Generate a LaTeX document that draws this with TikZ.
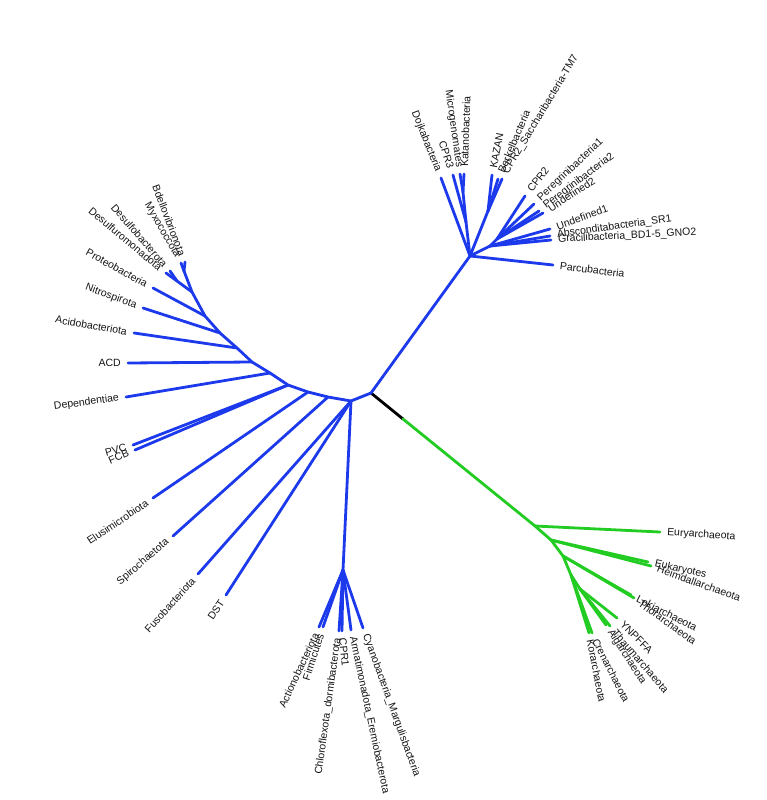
\documentclass[tikz,border=0pt]{standalone}
\usepackage{fontspec}
\setmainfont{Liberation Sans}
\definecolor{bl}{RGB}{28,58,236}
\definecolor{gr}{RGB}{34,204,34}
\definecolor{tx}{RGB}{20,20,20}
\tikzset{
  br/.style={line width=2.8pt, line cap=round, line join=round},
  blu/.style={br, draw=bl},
  grn/.style={br, draw=gr},
  blk/.style={br, draw=black},
  lab/.style={font=\fontsize{10.5}{12}\selectfont, text=tx, inner xsep=7pt, inner ysep=1pt},
  labL/.style={lab, anchor=east},
  labR/.style={lab, anchor=west}
}
\begin{document}
\begin{tikzpicture}[x=1pt,y=-1pt]
\useasboundingbox (0,0) rectangle (767,800);
% ---------- coordinates ----------
\coordinate (R) at (371,393);
\coordinate (Bk) at (403,419);
\coordinate (C) at (470,256);
\coordinate (L1) at (351,401);
% CPR clade
\coordinate (n1) at (466,222);
\coordinate (n2) at (463,192);
\coordinate (n3) at (488,211);
\coordinate (n4) at (490,246);
\coordinate (n5) at (497,239);
\coordinate (tDoj) at (441,178);
\coordinate (tCPR3) at (453,175);
\coordinate (tMic) at (460,174);
\coordinate (tKat) at (464,174);
\coordinate (tKAZ) at (492,175);
\coordinate (tBer) at (498,179);
\coordinate (tSac) at (502,179);
\coordinate (tCPR2) at (525,196);
\coordinate (tPer1) at (534,204);
\coordinate (tPer2) at (539,211);
\coordinate (tUnd2) at (543,213);
\coordinate (tUnd1) at (550,229);
\coordinate (tAbs) at (550,236);
\coordinate (tGra) at (551,240);
\coordinate (tPar) at (553,265);
% left clade backbone
\coordinate (b1) at (328,397);
\coordinate (b2) at (308,392);
\coordinate (b3) at (288,385);
\coordinate (b4) at (270,373);
\coordinate (b5) at (252,362);
\coordinate (b6) at (237,348);
\coordinate (b7) at (220,333);
\coordinate (b8) at (205,316);
\coordinate (b9) at (192,292);
\coordinate (d1) at (177,281);
\coordinate (d2) at (184,271);
\coordinate (tMyx) at (181,263);
\coordinate (tBde) at (185,262);
\coordinate (tDsb) at (170,271);
\coordinate (tDsm) at (166,273);
\coordinate (tPro) at (153,288);
\coordinate (tNit) at (143,308);
\coordinate (tAci) at (134,333);
\coordinate (tACD) at (128,363);
\coordinate (tDep) at (126,397);
\coordinate (tPVC) at (133,445);
\coordinate (tFCB) at (135,450);
\coordinate (tElu) at (153,498);
\coordinate (tSpi) at (173,536);
\coordinate (tFus) at (198,574);
\coordinate (tDST) at (226,595);
% Terrabacteria
\coordinate (T) at (343,570);
\coordinate (tAct) at (319,627);
\coordinate (tFir) at (323,627);
\coordinate (tChl) at (339,631);
\coordinate (tCPR1) at (342,631);
\coordinate (tArm) at (351,630);
\coordinate (tCya) at (363,628);
% Archaea
\coordinate (A1) at (535,526);
\coordinate (A2) at (551,540);
\coordinate (A3) at (563,556);
\coordinate (A4) at (571,575);
\coordinate (A5) at (580,589);
\coordinate (tEur) at (660,532);
\coordinate (tEuk) at (648,562);
\coordinate (tHei) at (651,566);
\coordinate (tLok) at (631,595);
\coordinate (tTho) at (634,598);
\coordinate (tYNP) at (617,618);
\coordinate (tAig) at (606,625);
\coordinate (tTha) at (610,626);
\coordinate (tCre) at (592,633);
\coordinate (tKor) at (589,633);
% ---------- branches ----------
\draw[blk] (R) -- (Bk);
\draw[grn] (Bk) -- (A1);
\draw[blu] (R) -- (C);
\draw[blu] (R) -- (L1);
% CPR
\draw[blu] (C) -- (tPar);
\draw[blu] (C) -- (tDoj);
\draw[blu] (C) -- (n1);
\draw[blu] (n1) -- (tCPR3);
\draw[blu] (n1) -- (n2);
\draw[blu] (n2) -- (tMic);
\draw[blu] (n2) -- (tKat);
\draw[blu] (C) -- (n3);
\draw[blu] (n3) -- (tKAZ);
\draw[blu] (n3) -- (tBer);
\draw[blu] (n3) -- (tSac);
\draw[blu] (C) -- (n4);
\draw[blu] (n4) -- (tUnd1);
\draw[blu] (n4) -- (tAbs);
\draw[blu] (n4) -- (tGra);
\draw[blu] (n4) -- (n5);
\draw[blu] (n5) -- (tCPR2);
\draw[blu] (n5) -- (tPer1);
\draw[blu] (n5) -- (tPer2);
\draw[blu] (n5) -- (tUnd2);
% left clade
\draw[blu] (L1) -- (b1) -- (b2) -- (b3) -- (b4) -- (b5) -- (b6) -- (b7) -- (b8) -- (b9);
\draw[blu] (b9) -- (d1);
\draw[blu] (d1) -- (tDsb);
\draw[blu] (d1) -- (tDsm);
\draw[blu] (b9) -- (d2);
\draw[blu] (d2) -- (tMyx);
\draw[blu] (d2) -- (tBde);
\draw[blu] (b8) -- (tPro);
\draw[blu] (b7) -- (tNit);
\draw[blu] (b6) -- (tAci);
\draw[blu] (b5) -- (tACD);
\draw[blu] (b4) -- (tDep);
\draw[blu] (b3) -- (tPVC);
\draw[blu] (b3) -- (tFCB);
\draw[blu] (b2) -- (tElu);
\draw[blu] (b1) -- (tSpi);
\draw[blu] (L1) -- (tFus);
\draw[blu] (L1) -- (tDST);
\draw[blu] (L1) -- (T);
\draw[blu] (T) -- (tAct);
\draw[blu] (T) -- (tFir);
\draw[blu] (T) -- (tChl);
\draw[blu] (T) -- (tCPR1);
\draw[blu] (T) -- (tArm);
\draw[blu] (T) -- (tCya);
% archaea
\draw[grn] (A1) -- (tEur);
\draw[grn] (A1) -- (A2);
\draw[grn] (A2) -- (tEuk);
\draw[grn] (A2) -- (tHei);
\draw[grn] (A2) -- (A3);
\draw[grn] (A3) -- (tLok);
\draw[grn] (A3) -- (tTho);
\draw[grn] (A3) -- (A4);
\draw[grn] (A4) -- (tCre);
\draw[grn] (A4) -- (tKor);
\draw[grn] (A4) -- (A5);
\draw[grn] (A5) -- (tYNP);
\draw[grn] (A5) -- (tAig);
\draw[grn] (A5) -- (tTha);
% ---------- labels ----------
\node[labL, rotate=-68] (lDoj) at (tDoj) {Dojkabacteria};
\node[labL, rotate=-72] (lCPR3) at (tCPR3) {CPR3};
\node[labL, rotate=-82] (lMic) at (tMic) {Microgenomates};
\node[labR, rotate=88] (lKat) at (tKat) {Katanobacteria};
\node[labR, rotate=79] (lKAZ) at (tKAZ) {KAZAN};
\node[labR, rotate=67] (lBer) at (tBer) {Berkelbacteria};
\node[labR, rotate=59] (lSac) at (tSac) {CPR2\_Saccharibacteria-TM7};
\node[labR, rotate=52] (lCPR2) at (tCPR2) {CPR2};
\node[labR, rotate=43] (lPer1) at (tPer1) {Peregrinibacteria1};
\node[labR, rotate=37] (lPer2) at (tPer2) {Peregrinibacteria2};
\node[labR, rotate=33] (lUnd2) at (tUnd2) {Undefined2};
\node[labR, rotate=20] (lUnd1) at (tUnd1) {Undefined1};
\node[labR, rotate=8] (lAbs) at (tAbs) {Absconditabacteria\_SR1};
\node[labR, rotate=3] (lGra) at (tGra) {Gracilibacteria\_BD1-5\_GNO2};
\node[labR, rotate=-7] (lPar) at (tPar) {Parcubacteria};
\node[labL, rotate=-69] (lBde) at (tBde) {Bdellovibrionota};
\node[labL, rotate=-60] (lMyx) at (tMyx) {Myxococcota};
\node[labL, rotate=-49] (lDsb) at (tDsb) {Desulfobacterota};
\node[labL, rotate=-40] (lDsm) at (tDsm) {Desulfuromonadota};
\node[labL, rotate=-29] (lPro) at (tPro) {Proteobacteria};
\node[labL, rotate=-20] (lNit) at (tNit) {Nitrospirota};
\node[labL, rotate=-10] (lAci) at (tAci) {Acidobacteriota};
\node[labL, rotate=0] (lACD) at (tACD) {ACD};
\node[labL, rotate=8] (lDep) at (tDep) {Dependentiae};
\node[labL, rotate=16] (lPVC) at (tPVC) {PVC};
\node[labL, rotate=23] (lFCB) at (tFCB) {FCB};
\node[labL, rotate=34] (lElu) at (tElu) {Elusimicrobiota};
\node[labL, rotate=41] (lSpi) at (tSpi) {Spirochaetota};
\node[labL, rotate=48] (lFus) at (tFus) {Fusobacteriota};
\node[labL, rotate=56] (lDST) at (tDST) {DST};
\node[labL, rotate=65] (lAct) at (tAct) {Actionobacteriota};
\node[labL, rotate=72] (lFir) at (tFir) {Firmicutes};
\node[labL, rotate=82] (lChl) at (tChl) {Chloroflexota\_dormibacterota};
\node[labR, rotate=-84] (lCPR1) at (tCPR1) {CPR1};
\node[labR, rotate=-78] (lArm) at (tArm) {Armatimonadota\_Eremiobacterota};
\node[labR, rotate=-70] (lCya) at (tCya) {Cyanobacteria\_Margulisbacteria};
\node[labR, rotate=-4] (lEur) at (tEur) {Euryarchaeota};
\node[labR, rotate=-13] (lEuk) at (tEuk) {Eukaryotes};
\node[labR, rotate=-20] (lHei) at (tHei) {Heimdallarchaeota};
\node[labR, rotate=-27] (lLok) at (tLok) {Lokiarchaeota};
\node[labR, rotate=-36] (lTho) at (tTho) {Thorarchaeota};
\node[labR, rotate=-45] (lYNP) at (tYNP) {YNPFFA};
\node[labR, rotate=-49] (lTha) at (tTha) {Thaumarchaeota};
\node[labR, rotate=-57] (lAig) at (tAig) {Aigarchaeota};
\node[labR, rotate=-63] (lCre) at (tCre) {Crenarchaeota};
\node[labR, rotate=-79] (lKor) at (tKor) {Korarchaeota};
\end{tikzpicture}
\end{document}
